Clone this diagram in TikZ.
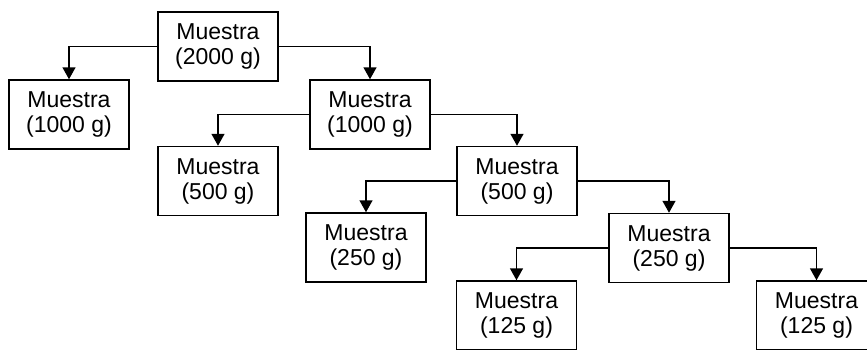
\documentclass[tikz,border=0pt]{standalone}
\usepackage{fontspec}
\setmainfont{Liberation Sans}
\usetikzlibrary{arrows.meta}
\begin{document}
\begin{tikzpicture}[x=1pt,y=-1pt,
  box/.style={draw=black,line width=1.5pt,minimum width=120pt,minimum height=69pt,inner sep=0pt,align=center,font=\fontsize{23}{25}\selectfont},
  arr/.style={draw=black,line width=1.5pt,-{Triangle[length=12pt,width=13pt]}}]
\useasboundingbox (0,0) rectangle (867,349);
\clip (0,0) rectangle (867,349);
\fill[white] (0,0) rectangle (867,349);
\node[box] (A) at (218,46.5) {Muestra\\(2000 g)};
\node[box] (B) at (69,114.5) {Muestra\\(1000 g)};
\node[box] (C) at (370,114.5) {Muestra\\(1000 g)};
\node[box] (D) at (218,181) {Muestra\\(500 g)};
\node[box] (E) at (517,181) {Muestra\\(500 g)};
\node[box] (F) at (366,247.5) {Muestra\\(250 g)};
\node[box] (G) at (669,248) {Muestra\\(250 g)};
\node[box] (H) at (516.5,315.5) {Muestra\\(125 g)};
\node[box] (I) at (816.5,315.5) {Muestra\\(125 g)};
\draw[arr] (A.west) -| (B.north);
\draw[arr] (A.east) -| (C.north);
\draw[arr] (C.west) -| (D.north);
\draw[arr] (C.east) -| (E.north);
\draw[arr] (E.west) -| (F.north);
\draw[arr] (E.east) -| (G.north);
\draw[arr] (G.west) -| (H.north);
\draw[arr] (G.east) -| (I.north);
\end{tikzpicture}
\end{document}
